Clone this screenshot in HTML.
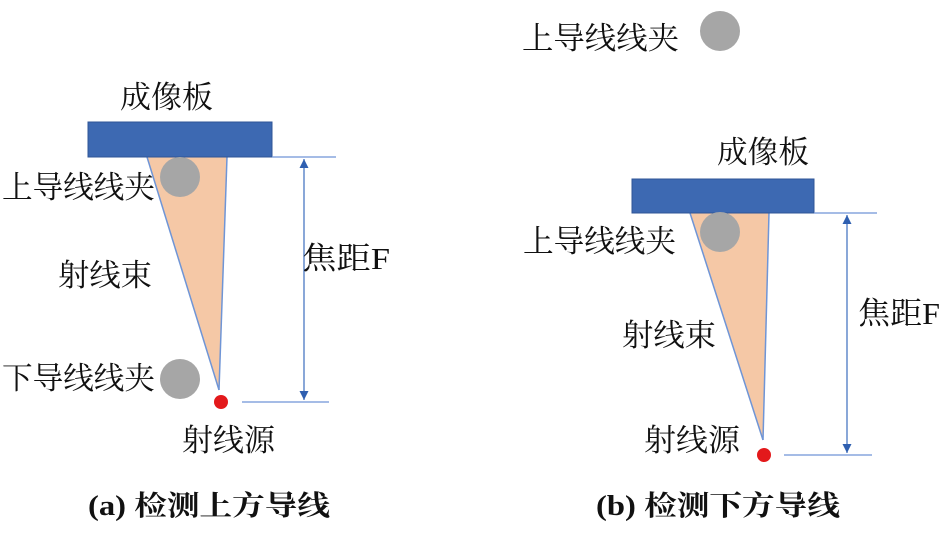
<!DOCTYPE html>
<html><head><meta charset="utf-8"><style>
html,body{margin:0;padding:0;background:#fff;}
svg{display:block;}
text{font-family:"Liberation Serif","Noto Serif CJK SC",serif;font-size:31px;fill:#111;}
.c{font-weight:bold;font-size:28px;}
</style></head><body>
<svg width="945" height="536" viewBox="0 0 945 536" xmlns="http://www.w3.org/2000/svg">
<defs>
<marker id="ar" viewBox="0 0 10 10" refX="10" refY="5" markerWidth="7" markerHeight="7" orient="auto-start-reverse"><path d="M0,0 L10,5 L0,10z" fill="#2f5fb0"/></marker>
</defs>
<!-- left -->
<polygon points="147,157 227,157 219,390" fill="#f5c8a6"/>
<line x1="147" y1="157" x2="219" y2="390" stroke="#6f95d6" stroke-width="1.5"/>
<line x1="227" y1="157" x2="219" y2="390" stroke="#6f95d6" stroke-width="1.5"/>
<rect x="88" y="122" width="184" height="35" fill="#3d69b2" stroke="#2f5597" stroke-width="1"/>
<circle cx="180" cy="177" r="20" fill="#a6a6a6"/>
<circle cx="180" cy="379" r="20" fill="#a6a6a6"/>
<circle cx="221" cy="402" r="7" fill="#e3191b"/>
<line x1="272" y1="157" x2="336" y2="157" stroke="#6f95d6" stroke-width="1.2"/>
<line x1="242" y1="402" x2="329" y2="402" stroke="#6f95d6" stroke-width="1.2"/>
<line x1="304" y1="159" x2="304" y2="400" stroke="#4a78c4" stroke-width="1.3" marker-start="url(#ar)" marker-end="url(#ar)"/>
<text x="120" y="108" textLength="93" lengthAdjust="spacingAndGlyphs">成像板</text>
<text x="2" y="198" textLength="153" lengthAdjust="spacingAndGlyphs">上导线线夹</text>
<text x="58" y="286" textLength="94" lengthAdjust="spacingAndGlyphs">射线束</text>
<text x="2" y="389" textLength="153" lengthAdjust="spacingAndGlyphs">下导线线夹</text>
<text x="182" y="451" textLength="93" lengthAdjust="spacingAndGlyphs">射线源</text>
<text x="302" y="269" textLength="88" lengthAdjust="spacingAndGlyphs">焦距F</text>
<text class="c" x="88" y="515" textLength="242" lengthAdjust="spacingAndGlyphs">(a) 检测上方导线</text>
<!-- right -->
<polygon points="690,213 769,213 763,440" fill="#f5c8a6"/>
<line x1="690" y1="213" x2="763" y2="440" stroke="#6f95d6" stroke-width="1.5"/>
<line x1="769" y1="213" x2="763" y2="440" stroke="#6f95d6" stroke-width="1.5"/>
<rect x="632" y="179" width="182" height="34" fill="#3d69b2" stroke="#2f5597" stroke-width="1"/>
<circle cx="720" cy="232" r="20" fill="#a6a6a6"/>
<circle cx="720" cy="31" r="20" fill="#a6a6a6"/>
<circle cx="764" cy="455" r="7" fill="#e3191b"/>
<line x1="814" y1="213" x2="877" y2="213" stroke="#6f95d6" stroke-width="1.2"/>
<line x1="784" y1="455" x2="872" y2="455" stroke="#6f95d6" stroke-width="1.2"/>
<line x1="847" y1="215" x2="847" y2="453" stroke="#4a78c4" stroke-width="1.3" marker-start="url(#ar)" marker-end="url(#ar)"/>
<text x="522" y="49" textLength="157" lengthAdjust="spacingAndGlyphs">上导线线夹</text>
<text x="717" y="163" textLength="92" lengthAdjust="spacingAndGlyphs">成像板</text>
<text x="523" y="252" textLength="153" lengthAdjust="spacingAndGlyphs">上导线线夹</text>
<text x="622" y="346" textLength="94" lengthAdjust="spacingAndGlyphs">射线束</text>
<text x="644" y="451" textLength="96" lengthAdjust="spacingAndGlyphs">射线源</text>
<text x="858" y="324" textLength="82" lengthAdjust="spacingAndGlyphs">焦距F</text>
<text class="c" x="596" y="515" textLength="244" lengthAdjust="spacingAndGlyphs">(b) 检测下方导线</text>
</svg>
</body></html>
